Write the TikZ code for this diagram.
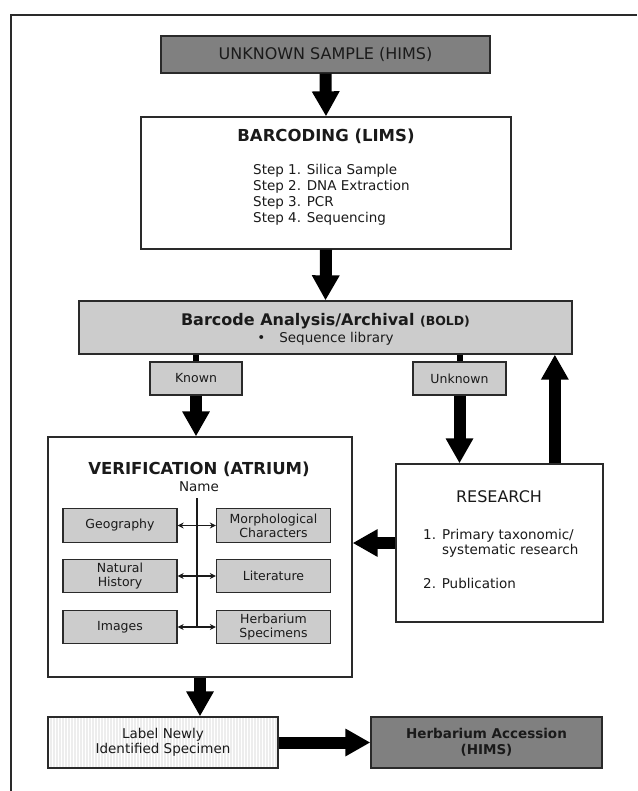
\documentclass[tikz,border=0pt]{standalone}
\usepackage{fontspec}
\setmainfont{DejaVu Sans}
\usetikzlibrary{arrows.meta,calc}
\definecolor{dk}{HTML}{808080}
\definecolor{lt}{HTML}{CCCCCC}
\definecolor{edge}{HTML}{2A2A2A}
\definecolor{ink}{HTML}{1A1A1A}
\newcommand{\fs}[2]{\fontsize{#1}{#2}\selectfont}
\tikzset{
 box/.style={draw=edge, line width=1.3pt, rectangle, inner sep=0pt, text=ink, align=center},
 subbox/.style={box, fill=lt, minimum width=114pt, minimum height=33.5pt, font=\fs{12.5}{14}},
 fat/.style={line width=12pt, draw=black, -{Triangle[width=26pt,length=25pt]}},
 stub/.style={line width=6pt, draw=black},
 dbl/.style={line width=1.1pt, draw=ink, {Stealth[length=6pt,width=6pt]}-{Stealth[length=6pt,width=6pt]}},
 txt/.style={inner sep=0pt, text=ink},
 stripes/.style={path picture={\foreach \k in {0,...,77} \draw[black!7, line width=1.1pt] ([xshift=\k*3pt]path picture bounding box.south west) -- ([xshift=\k*3pt]path picture bounding box.north west);}}
}
\begin{document}
\begin{tikzpicture}[x=1pt,y=-1pt]
\useasboundingbox (0,0) rectangle (637,791);
\fill[white] (0,0) rectangle (637,791);
\coordinate (ftl) at (11,15);
\coordinate (ftr) at (637,15);
\coordinate (fbl) at (11,791);
\draw[line width=1.5pt, edge] (ftr) -- (ftl) -- (fbl);

% top
\node[box, fill=dk, minimum width=329pt, minimum height=37pt, font=\fs{16}{19}] (unk) at (325.5,54.5) {UNKNOWN SAMPLE (HIMS)};

\node[box, fill=white, minimum width=370pt, minimum height=132pt] (barc) at (326,183) {};
\node[txt, font=\bfseries\fs{16.5}{20}] (barct) at (326,136) {BARCODING (LIMS)};
\node[txt, anchor=west, align=left, font=\fs{13.5}{16}] (steps) at (253,195) {Step 1. Silica Sample\\Step 2. DNA Extraction\\Step 3. PCR\\Step 4. Sequencing};

\node[box, fill=lt, minimum width=493pt, minimum height=53pt] (bold) at (325.5,327.5) {};
\node[txt, font=\bfseries\fs{16}{19}] (boldt) at (325.5,321) {Barcode Analysis/Archival {\fs{12.5}{15}(BOLD)}};
\node[txt, font=\fs{13.5}{16}] (boldl) at (325.5,339) {•\hspace{14pt}Sequence library};

\node[box, fill=lt, minimum width=92pt, minimum height=33pt, font=\fs{12.5}{15}] (known) at (196,378.5) {Known};
\node[box, fill=lt, minimum width=93pt, minimum height=33pt, font=\fs{12.5}{15}] (unkn) at (459.5,378.5) {Unknown};

% verification
\node[box, fill=white, minimum width=304pt, minimum height=240pt] (verif) at (200,557) {};
\node[txt, font=\bfseries\fs{16.5}{20}] (verit) at (199,469) {VERIFICATION (ATRIUM)};
\node[txt, font=\fs{13.5}{16}] (name) at (199,487) {Name};
\node[subbox] (geo) at (120,525.5) {Geography};
\node[subbox] (morph) at (273.5,525.5) {Morphological\\Characters};
\node[subbox] (nat) at (120,576) {Natural\\History};
\node[subbox] (lit) at (273.5,576) {Literature};
\node[subbox] (img) at (120,627) {Images};
\node[subbox] (herbs) at (273.5,627) {Herbarium\\Specimens};
\coordinate (vtop) at (197,498);
\draw[line width=1.1pt, ink] (vtop) -- (vtop |- img.east);
\draw[dbl] (geo.east) -- (morph.west);
\draw[dbl] (nat.east) -- (lit.west);
\draw[dbl] (img.east) -- (herbs.west);

% research
\node[box, fill=white, minimum width=207pt, minimum height=158pt] (res) at (499.5,543) {};
\node[txt, font=\fs{16}{19}] (rest) at (499,497) {RESEARCH};
\node[txt, anchor=base west, font=\fs{13.5}{16}] (r1n) at (423,539) {1.};
\node[txt, anchor=base west, font=\fs{13.5}{16}] (r1a) at (442,539) {Primary taxonomic/};
\node[txt, anchor=base west, font=\fs{13.5}{16}] (r1b) at (442,554) {systematic research};
\node[txt, anchor=base west, font=\fs{13.5}{16}] (r2n) at (423,588) {2. Publication};

% bottom
\node[box, fill=white, stripes, minimum width=230pt, minimum height=51pt, font=\fs{13.5}{15}] (label) at (163,742.5) {Label Newly\\Identified Specimen};
\node[box, fill=dk, minimum width=231pt, minimum height=51pt, font=\bfseries\fs{13.5}{16}] (herb) at (486.5,742.5) {Herbarium Accession\\(HIMS)};

% arrows
\draw[fat] (unk.south) -- (barc.north);
\draw[fat] (barc.south) -- (bold.north);
\draw[stub] (known.north |- bold.south) -- (known.north);
\draw[stub] (unkn.north |- bold.south) -- (unkn.north);
\draw[fat] (known.south) -- (known.south |- verif.north);
\draw[fat] (unkn.south) -- (unkn.south |- res.north);
\coordinate (upb) at ($(res.north west)!0.7657!(res.north east)$);
\draw[fat] (upb) -- (upb |- bold.south);
\draw[fat] (res.west) -- (res.west -| verif.east);
\draw[fat] (verif.south) -- (verif.south |- label.north);
\draw[fat] (label.east) -- (herb.west);
\end{tikzpicture}
\end{document}
